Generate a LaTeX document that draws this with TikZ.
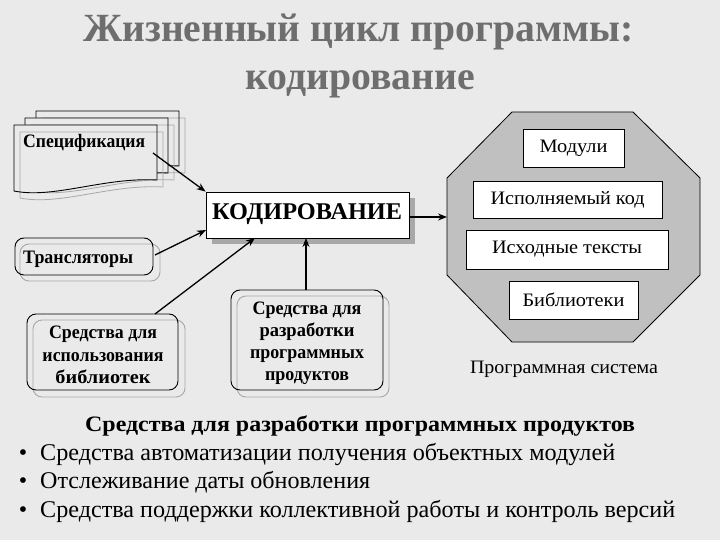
\documentclass[tikz,border=0pt]{standalone}
\usepackage{fontspec}
\setmainfont{Liberation Serif}
\usepackage{graphicx}
\usetikzlibrary{arrows.meta}
\definecolor{bg}{HTML}{EAEAEA}
\definecolor{shd}{HTML}{A8A8A8}
\definecolor{shdfill}{HTML}{A8A8A8}
\definecolor{ttl}{HTML}{6E6E6E}
\definecolor{octf}{HTML}{C0C0C0}
\newcommand{\fw}[2]{\resizebox{#1pt}{\height}{#2}}
\newcommand{\pageshape}{(0,0) -- (143,0) -- (143,55) .. controls (90,52) and (40,74) .. (0,66) -- cycle}
\newcommand{\docpage}[2]{%
  \begin{scope}[shift={(#1,#2)}]
    \fill[bg] \pageshape;
    \draw[shd,line width=0.8pt,shift={(6,7)}] \pageshape;
    \draw[black,line width=0.9pt] \pageshape;
  \end{scope}}
\begin{document}
\begin{tikzpicture}[x=1pt,y=-1pt,
  arr/.style={-{Stealth[length=9pt,width=7pt]}, line width=1.3pt},
  lbl/.style={inner sep=0pt, anchor=base},
  lblw/.style={inner sep=0pt, anchor=base west},
  boxf/.style={font=\fontsize{19}{22}\selectfont\bfseries},
  octbox/.style={draw=black, line width=0.8pt, fill=white, inner sep=0pt, font=\fontsize{19}{22}\selectfont},
  rb/.style={rounded corners=9pt, line width=0.9pt},
]
\path[use as bounding box, fill=bg] (0,0) rectangle (720,540);

% title
\node[lblw, text=ttl, font=\fontsize{40}{44}\selectfont\bfseries] (t1) at (83,42) {\fw{550}{Жизненный цикл программы:}};
\node[lblw, text=ttl, font=\fontsize{40}{44}\selectfont\bfseries] (t2) at (245,90) {\fw{230}{кодирование}};

% specification stack
\docpage{36}{111}
\docpage{25}{118}
\docpage{14}{125}
\node[lblw, font=\fontsize{19}{22}\selectfont\bfseries] (spec) at (23,148) {\fw{122}{Спецификация}};
\coordinate (specout) at (153,153);

% translators
\draw[rb, shd] (20,244) rectangle (160,281);
\draw[rb] (15,238) rectangle (153,275);
\node[lblw, font=\fontsize{19}{22}\selectfont\bfseries] (trans) at (23,263) {\fw{110}{Трансляторы}};
\coordinate (transout) at (155,255);

% libraries tools
\draw[rb, shd] (33,320) rectangle (185,397);
\draw[rb] (27,314) rectangle (178,390);
\node[boxf, align=center, inner sep=0pt] (bib) at (103,355) {\fw{108}{Средства для}\\[0.5pt]\fw{121}{использования}\\[0.5pt]\fw{95}{библиотек}};
\coordinate (bibout) at (155,314);

% development tools
\draw[rb, shd] (237,296) rectangle (389,397);
\draw[rb] (231,290) rectangle (383,390);
\node[boxf, align=center, inner sep=0pt] (razr) at (307,343) {\fw{109}{Средства для}\\\fw{95}{разработки}\\\fw{114}{программных}\\\fw{84}{продуктов}};
\coordinate (razrout) at (306,290);

% coding box
\fill[shdfill] (212,198) rectangle (415,244);
\node[draw=black, line width=0.9pt, fill=white, minimum width=203pt, minimum height=46pt, inner sep=0pt] (kod) at (307.5,215) {};
\node[lbl, font=\fontsize{24}{28}\selectfont\bfseries] (kodt) at (307,219) {\fw{190}{КОДИРОВАНИЕ}};

% octagon
\draw[fill=octf, line width=0.8pt] (512,112) -- (633,112) -- (700,178) -- (700,275) -- (633,342) -- (512,342) -- (447,275) -- (447,178) -- cycle;
\coordinate (octin) at (447,217);
\node[octbox, minimum width=101pt, minimum height=38pt] (mod) at (573.5,148) {\fw{68}{Модули}};
\node[octbox, minimum width=189pt, minimum height=37pt] (exe) at (567.5,199.5) {\fw{154}{Исполняемый код}};
\node[octbox, minimum width=202pt, minimum height=39pt] (src) at (567,249.5) {\fw{150}{Исходные тексты}};
\node[octbox, minimum width=129pt, minimum height=38pt] (lib) at (573.5,300) {\fw{102}{Библиотеки}};
\node[lbl, font=\fontsize{19}{22}\selectfont] (sys) at (564,373) {\fw{188}{Программная система}};

% connectors
\draw[arr] (specout) -- (kod.north west);
\draw[arr] (transout) -- (206,230);
\draw[arr] (bibout) -- (255,238);
\draw[arr] (razrout) -- (306,238);
\draw[arr] (409,217) -- (octin);

% bottom text
\node[lblw, font=\fontsize{22}{26}\selectfont\bfseries] (head) at (85,431) {\fw{550}{Средства для разработки программных продуктов}};
\node[lbl, font=\fontsize{24}{28}\selectfont] (b1) at (23,460) {•};
\node[lbl, font=\fontsize{24}{28}\selectfont] (b2) at (23,488) {•};
\node[lbl, font=\fontsize{24}{28}\selectfont] (b3) at (23,517) {•};
\node[lblw, font=\fontsize{24}{28}\selectfont] (l1) at (40,460) {\fw{575}{Средства автоматизации получения объектных модулей}};
\node[lblw, font=\fontsize{24}{28}\selectfont] (l2) at (40,488) {\fw{330}{Отслеживание даты обновления}};
\node[lblw, font=\fontsize{24}{28}\selectfont] (l3) at (40,517) {\fw{635}{Средства поддержки коллективной работы и контроль версий}};
\end{tikzpicture}
\end{document}
